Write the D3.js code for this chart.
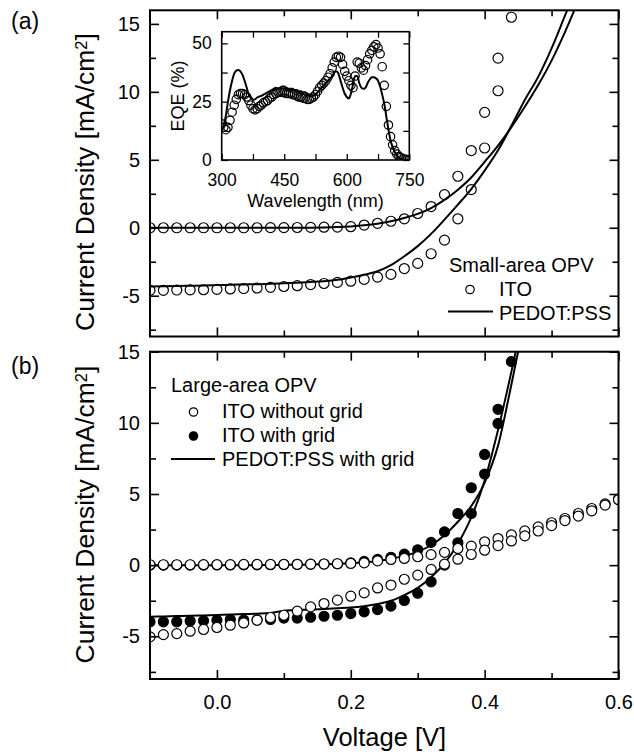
<!DOCTYPE html>
<html>
<head>
<meta charset="utf-8">
<script src="https://cdn.jsdelivr.net/npm/d3@7"></script>
<style>
body { margin: 0; background: #fff; }
svg { display: block; font-family: "Liberation Sans", Arial, Helvetica, sans-serif; }
</style>
</head>
<body>
<svg id="chart" width="634" height="754"></svg>
<script>
// Tension appliquée (V), pas de 0.02 V
const voltage = [-0.10,-0.08,-0.06,-0.04,-0.02,0.00,0.02,0.04,0.06,0.08,0.10,0.12,0.14,0.16,0.18,0.20,0.22,0.24,
                 0.26,0.28,0.30,0.32,0.34,0.36,0.38,0.40,0.42,0.44,0.46,0.48,0.50,0.52,0.54,0.56,0.58,0.60];

// (a) petite surface
const itoDarkA  = [0,0,0,0,0,0,0,0,0,0.01,0.01,0.02,0.03,0.04,0.05,0.08,0.2,0.33,0.48,0.66,1.05,1.56,2.44,3.79,5.68,8.49,12.48,
                   null,null,null,null,null,null,null,null,null];
const itoLightA = [-4.6,-4.6,-4.58,-4.57,-4.56,-4.53,-4.5,-4.47,-4.43,-4.38,-4.32,-4.26,-4.18,-4.1,-4.02,-3.93,-3.8,-3.63,
                   -3.43,-3.0,-2.62,-1.91,-0.91,0.66,2.81,5.87,10.08,15.49,null,null,null,null,null,null,null,null];
const pedotDarkA  = [0,0,0,0,0,0,0,0,0,0,0,0.01,0.01,0.02,0.05,0.1,0.18,0.3,0.48,0.72,1.02,1.45,2.05,2.8,3.7,4.85,6.05,7.4,
                     8.9,10.5,12.3,14.4,16.7,null,null,null];
const pedotLightA = [-4.33,-4.31,-4.29,-4.27,-4.25,-4.22,-4.19,-4.17,-4.15,-4.12,-4.08,-4.04,-3.99,-3.93,-3.83,-3.66,-3.45,-3.2,
                     -2.75,-2.1,-1.35,-0.45,0.6,1.7,2.85,4.2,5.7,7.5,9.4,11.1,13.2,15.6,18.0,null,null,null];

// (b) grande surface
const itoNoGridDark  = [0.03,0.03,0.03,0.03,0.04,0.04,0.04,0.05,0.05,0.05,0.06,0.06,0.07,0.08,0.1,0.12,0.16,0.3,
                        0.4,0.47,0.59,0.74,0.9,1.17,1.34,1.64,1.87,2.13,2.41,2.69,2.98,3.28,3.63,3.98,4.3,4.65];
const itoNoGridLight = [-5.04,-4.88,-4.81,-4.64,-4.52,-4.38,-4.22,-4.06,-3.87,-3.68,-3.52,-3.23,-2.93,-2.7,-2.46,-2.18,-1.95,-1.6,
                        -1.4,-0.99,-0.7,-0.3,0.07,0.42,0.75,1.05,1.37,1.7,2.06,2.4,2.78,3.13,3.45,3.82,4.22,4.6];
const itoGridDark  = [0,0,0,0,0,0.01,0.01,0.02,0.02,0.03,0.04,0.05,0.06,0.08,0.1,0.16,0.26,0.4,0.55,0.77,1.08,1.6,2.34,3.63,
                      5.44,7.78,10.95,null,null,null,null,null,null,null,null,null];
const itoGridLight = [-3.98,-3.98,-3.98,-3.93,-3.91,-3.87,-3.82,-3.85,-3.84,-3.82,-3.72,-3.72,-3.66,-3.59,-3.52,-3.4,-3.28,-3.12,
                      -2.88,-2.48,-1.97,-1.17,0.0,1.57,3.63,6.4,9.96,14.3,null,null,null,null,null,null,null,null];
const pedotGridDark  = [0,0,0,0,0,0,0,0,0,0.01,0.02,0.03,0.04,0.06,0.09,0.13,0.2,0.3,0.45,0.65,0.95,1.4,2.1,3.05,4.15,5.8,
                        8.4,12.7,17.3,null,null,null,null,null,null,null];
const pedotGridLight = [-3.62,-3.6,-3.58,-3.56,-3.53,-3.5,-3.47,-3.44,-3.41,-3.37,-3.2,-3.14,-3.12,-3.08,-3.03,-2.98,-2.88,-2.73,
                        -2.5,-2.1,-1.6,-0.85,0.12,1.5,3.35,5.95,9.5,13.6,18.0,null,null,null,null,null,null,null];

// Encart EQE
const wavelength = [300,305,310,315,320,325,330,335,340,345,350,355,360,365,370,375,380,385,390,395,
                    400,405,410,415,420,425,430,435,440,445,450,455,460,465,470,475,480,485,490,495,
                    500,505,510,515,520,525,530,535,540,545,550,555,560,565,570,575,580,585,590,595,
                    600,605,610,615,620,625,630,635,640,645,650,655,660,665,670,675,680,685,690,695,
                    700,705,710,715,720,725,730,735,740,745,750];
const eqeITO = [15.5,14,13,14,17,20.5,23.5,26,28,28.5,28.5,28,27,25.5,23.5,22,21.5,22,23,23.5,
                24.5,25,25.5,26.5,27,28,28.5,29,29,29,29,28.5,28.5,28.5,28,28,27.5,27,27,26.5,
                26.5,26,26,26.5,27,28,29.5,31,32,33,34,35.5,37,39.5,42,44,44.5,44,41,38,
                36,34,32,31,36,42,41.5,39.5,38.5,40.5,43,45.5,47,48.5,49.5,48,45.5,40,32,23,
                15,10,6.5,4,2.5,1.5,1,0.5,0.3,0.2,0.1];
const eqePEDOT = [12,15,19,25,30,34,37,38.3,38.6,38,36.5,34,31,28,26.5,25.8,26,26.8,27.2,27.5,
                  28,28.5,29,29.5,30,30.5,31,30.5,31,31.5,31.5,31,30.5,30.5,30.5,30,30,29.5,29.5,29,
                  29,28.5,28,27.5,27.5,28,29,30,31,32,33,34,35,36,37.5,38,37,34,31,28.5,
                  27,26.4,28.5,32.5,36,36,33,31,30.5,31,33,34.5,35.5,35.5,35,34,31.5,28,24,18.5,
                  13,8.5,5.5,3.5,2,1,0.5,0.2,0.1,0,0];

const font = '"Liberation Sans", Arial, Helvetica, sans-serif';
const svg = d3.select("#chart");

const x = d3.scaleLinear().domain([-0.1, 0.6]).range([150, 618.5]);
const yA = d3.scaleLinear().domain([-8, 16]).range([336.5, 10.3]);
const yB = d3.scaleLinear().domain([-8, 15]).range([679, 351.7]);
const xIn = d3.scaleLinear().domain([300, 750]).range([221.7, 409.3]);
const yIn = d3.scaleLinear().domain([0, 55]).range([160, 31.7]);

// axes sur les 4 côtés, graduations vers l'intérieur
function drawAxes(xs, ys, o) {
    const [x0, x1] = xs.range();
    const [y0, y1] = ys.range();
    const g = svg.append("g");
    const add = (axis, tx, ty) => g.append("g").attr("transform", `translate(${tx},${ty})`).call(axis);

    add(d3.axisBottom(xs).tickValues(o.xMajor).tickSize(-o.major).tickPadding(o.xPad)
        .tickFormat(o.xFmt || ""), 0, y0);
    add(d3.axisBottom(xs).tickValues(o.xMinor).tickSize(-o.minor).tickFormat(""), 0, y0);
    add(d3.axisTop(xs).tickValues(o.xMajor).tickSize(-o.major).tickFormat(""), 0, y1);
    add(d3.axisTop(xs).tickValues(o.xMinor).tickSize(-o.minor).tickFormat(""), 0, y1);
    add(d3.axisLeft(ys).tickValues(o.yMajor).tickSize(-o.major).tickPadding(o.yPad)
        .tickFormat(d => String(d)), x0, 0);
    add(d3.axisLeft(ys).tickValues(o.yMinor).tickSize(-o.minor).tickFormat(""), x0, 0);
    add(d3.axisRight(ys).tickValues(o.yMajor).tickSize(-o.major).tickFormat(""), x1, 0);
    add(d3.axisRight(ys).tickValues(o.yMinor).tickSize(-o.minor).tickFormat(""), x1, 0);

    g.selectAll(".domain").remove();
    g.selectAll("g g").attr("font-family", font).attr("font-size", o.font);
    g.selectAll(".tick line").attr("stroke", "#000").attr("stroke-width", o.tickW);
    g.selectAll(".tick text").attr("fill", "#000");

    g.append("rect")
        .attr("x", x0).attr("y", y1)
        .attr("width", x1 - x0).attr("height", y0 - y1)
        .attr("fill", "none").attr("stroke", "#000").attr("stroke-width", o.frameW);
}

function clipFor(id, xs, ys) {
    const [x0, x1] = xs.range();
    const [y0, y1] = ys.range();
    svg.append("clipPath").attr("id", id).append("rect")
        .attr("x", x0).attr("y", y1).attr("width", x1 - x0).attr("height", y0 - y1);
    return svg.append("g").attr("clip-path", `url(#${id})`);
}

function curve(g, xs, ys, xv, yv, w) {
    const pts = xv.map((v, i) => [v, yv[i]]);
    g.append("path").datum(pts)
        .attr("fill", "none").attr("stroke", "#000").attr("stroke-width", w)
        .attr("d", d3.line().defined(d => d[1] != null)
            .x(d => xs(d[0])).y(d => ys(d[1])).curve(d3.curveMonotoneX));
}

function dots(g, xs, ys, xv, yv, r, filled, bg) {
    const pts = xv.map((v, i) => [v, yv[i]]).filter(d => d[1] != null);
    g.selectAll(null).data(pts).enter().append("circle")
        .attr("cx", d => xs(d[0])).attr("cy", d => ys(d[1])).attr("r", r)
        .attr("fill", filled ? "#000" : bg).attr("stroke", "#000").attr("stroke-width", 1.2);
}

const mainOpts = {
    xMajor: [0, 0.2, 0.4, 0.6], xMinor: [0.1, 0.3, 0.5],
    yMajor: [-5, 0, 5, 10, 15], yMinor: [-7.5, -2.5, 2.5, 7.5, 12.5],
    major: 9, minor: 6, xPad: 16, yPad: 10, font: 20, tickW: 1.6, frameW: 2
};

// ---- panneau (a)
const gA = clipFor("clipA", x, yA);
curve(gA, x, yA, voltage, pedotDarkA, 2);
curve(gA, x, yA, voltage, pedotLightA, 2);
dots(gA, x, yA, voltage, itoDarkA, 5, false, "none");
dots(gA, x, yA, voltage, itoLightA, 5, false, "none");
drawAxes(x, yA, Object.assign({}, mainOpts, { xFmt: null }));

// ---- encart
svg.append("rect")
    .attr("x", xIn.range()[0]).attr("y", yIn.range()[1])
    .attr("width", xIn.range()[1] - xIn.range()[0]).attr("height", yIn.range()[0] - yIn.range()[1])
    .attr("fill", "#fff");
const gIn = clipFor("clipIn", xIn, yIn);
curve(gIn, xIn, yIn, wavelength, eqePEDOT, 2);
dots(gIn, xIn, yIn, wavelength, eqeITO, 4.2, false, "none");
drawAxes(xIn, yIn, {
    xMajor: [300, 450, 600, 750], xMinor: [375, 525, 675],
    yMajor: [0, 25, 50], yMinor: [12.5, 37.5],
    major: 6, minor: 6, xPad: 14, yPad: 10, font: 17.5, tickW: 1.3, frameW: 1.6,
    xFmt: d => String(d)
});
svg.append("text").attr("x", 315.5).attr("y", 207).attr("text-anchor", "middle")
    .attr("font-family", font).attr("font-size", 18).text("Wavelength (nm)");
svg.append("text").attr("transform", "translate(184,96) rotate(-90)").attr("text-anchor", "middle")
    .attr("font-family", font).attr("font-size", 18).text("EQE (%)");

// ---- panneau (b) : lignes, puis points pleins, puis points vides par-dessus
const gB = clipFor("clipB", x, yB);
curve(gB, x, yB, voltage, pedotGridDark, 2);
curve(gB, x, yB, voltage, pedotGridLight, 2);
dots(gB, x, yB, voltage, itoGridDark, 5, true);
dots(gB, x, yB, voltage, itoGridLight, 5, true);
dots(gB, x, yB, voltage, itoNoGridDark, 5, false, "#fff");
dots(gB, x, yB, voltage, itoNoGridLight, 5, false, "#fff");
drawAxes(x, yB, Object.assign({}, mainOpts, { xFmt: d3.format(".1f") }));

// ---- titres
function yTitle(cy) {
    const t = svg.append("text").attr("transform", `translate(94,${cy}) rotate(-90)`)
        .attr("text-anchor", "middle").attr("font-family", font).attr("font-size", 26.5);
    t.append("tspan").text("Current Density [mA/cm");
    t.append("tspan").attr("dy", "-0.45em").attr("font-size", "0.62em").text("2");
    t.append("tspan").attr("dy", "0.28em").text("]");
}
yTitle(182);
yTitle(514.5);
svg.append("text").attr("x", 384.5).attr("y", 746).attr("text-anchor", "middle")
    .attr("font-family", font).attr("font-size", 25.5).text("Voltage [V]");
svg.append("text").attr("x", 11).attr("y", 29).attr("font-family", font).attr("font-size", 23).text("(a)");
svg.append("text").attr("x", 11).attr("y", 374).attr("font-family", font).attr("font-size", 23).text("(b)");

// ---- légendes
function legendText(tx, ty, s) {
    svg.append("text").attr("x", tx).attr("y", ty).attr("font-family", font).attr("font-size", 20).text(s);
}
function legendLine(x1, x2, ly) {
    svg.append("line").attr("x1", x1).attr("x2", x2).attr("y1", ly).attr("y2", ly)
        .attr("stroke", "#000").attr("stroke-width", 2);
}
function legendDot(cx, cy, filled) {
    svg.append("circle").attr("cx", cx).attr("cy", cy).attr("r", 4.2)
        .attr("fill", filled ? "#000" : "#fff").attr("stroke", "#000").attr("stroke-width", 1.2);
}
legendText(449, 272, "Small-area OPV");
legendDot(470, 289.5, false);
legendText(499, 295.5, "ITO");
legendLine(448, 493, 311.5);
legendText(499, 319.5, "PEDOT:PSS");

legendText(171, 392, "Large-area OPV");
legendDot(193.5, 412, false);
legendText(222, 417.5, "ITO without grid");
legendDot(193.5, 436, true);
legendText(222, 441.5, "ITO with grid");
legendLine(171, 215, 459);
legendText(222, 465.5, "PEDOT:PSS with grid");
</script>
</body>
</html>
